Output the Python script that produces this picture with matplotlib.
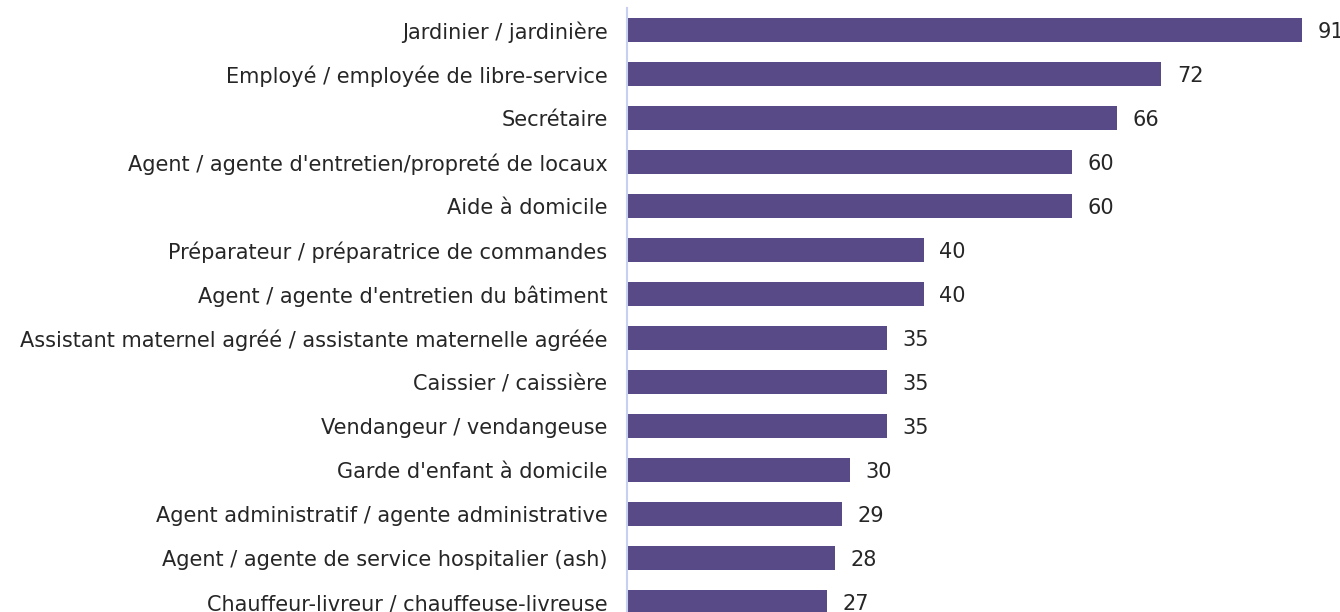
import matplotlib
matplotlib.use("Agg")
import matplotlib.pyplot as plt

# Data
metiers = [
    "Jardinier / jardinière",
    "Employé / employée de libre-service",
    "Secrétaire",
    "Agent / agente d'entretien/propreté de locaux",
    "Aide à domicile",
    "Préparateur / préparatrice de commandes",
    "Agent / agente d'entretien du bâtiment",
    "Assistant maternel agréé / assistante maternelle agréée",
    "Caissier / caissière",
    "Vendangeur / vendangeuse",
    "Garde d'enfant à domicile",
    "Agent administratif / agente administrative",
    "Agent / agente de service hospitalier (ash)",
    "Chauffeur-livreur / chauffeuse-livreuse",
]
valeurs = [91, 72, 66, 60, 60, 40, 40, 35, 35, 35, 30, 29, 28, 27]

BAR_COLOR = "#574A86"
TEXT_COLOR = "#262626"
AXIS_COLOR = "#C8D0F2"
FS = 15

plt.rcParams["font.family"] = ["DejaVu Sans"]

fig = plt.figure(figsize=(13.4, 6.12), dpi=100)
# axes placed so the zero line sits at x=627px, top at y=8px, cut at bottom
ax = fig.add_axes([627 / 1340, 0, 1 - 627 / 1340, (612 - 8) / 612])

pos = list(range(len(metiers)))
ax.barh(pos, valeurs, height=0.545, color=BAR_COLOR, zorder=2)

for y, v in zip(pos, valeurs):
    ax.text(v + 2.1, y + 0.04, str(v), va="center", ha="left",
            fontsize=FS, color=TEXT_COLOR)

ax.set_xlim(0, 96.1)
ax.set_ylim(13.227, -0.5)
ax.set_yticks(pos)
ax.set_yticklabels(metiers, fontsize=FS, color=TEXT_COLOR)
ax.tick_params(axis="y", length=0, pad=14)
ax.set_xticks([])

for side in ["top", "right", "bottom"]:
    ax.spines[side].set_visible(False)
ax.spines["left"].set_color(AXIS_COLOR)
ax.spines["left"].set_linewidth(1.5)

fig.savefig("out.png", dpi=100)
